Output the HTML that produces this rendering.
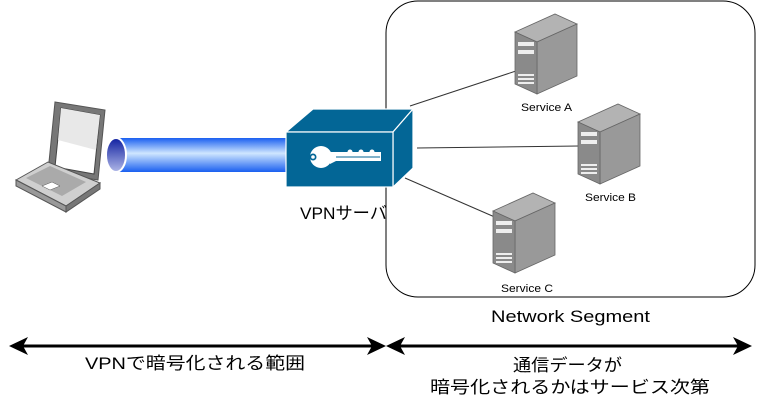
<!DOCTYPE html>
<html><head><meta charset="utf-8"><style>
html,body{margin:0;padding:0;background:#fff;}
svg{display:block}
text{font-family:"Liberation Sans","Noto Sans CJK JP",sans-serif;}
</style></head><body>
<svg width="762" height="402" viewBox="0 0 762 402" xmlns="http://www.w3.org/2000/svg">
<defs>
<linearGradient id="tube" x1="0" y1="0" x2="0" y2="1">
<stop offset="0" stop-color="#1a5ff0"/><stop offset="0.45" stop-color="#cfe6ff"/><stop offset="1" stop-color="#1a5ff0"/>
</linearGradient>
<linearGradient id="cap" x1="0" y1="0" x2="0" y2="1">
<stop offset="0" stop-color="#1020a0"/><stop offset="1" stop-color="#b0b8e8"/>
</linearGradient>
<g id="srv">
<polygon points="0,18 40,0 62,10 22,28" fill="#b3b3b3" stroke="#666" stroke-width="0.8"/>
<polygon points="22,28 62,10 62,62 22,80" fill="#999" stroke="#666" stroke-width="0.8"/>
<polygon points="0,18 22,28 22,80 0,70" fill="#8a8a8a" stroke="#666" stroke-width="0.8"/>
<rect x="3" y="28" width="16" height="4" fill="#eee"/>
<rect x="3" y="36" width="16" height="4" fill="#eee"/>
<rect x="3" y="60" width="16" height="2" fill="#eee"/>
<rect x="3" y="64" width="16" height="2" fill="#eee"/>
<rect x="3" y="68" width="16" height="2" fill="#eee"/>
</g>
</defs>
<rect x="386" y="1" width="369" height="296" rx="32" fill="#fff" stroke="#000" stroke-width="1"/>
<line x1="410" y1="106" x2="519" y2="70" stroke="#333" stroke-width="1"/>
<line x1="417" y1="148" x2="579" y2="146" stroke="#333" stroke-width="1"/>
<line x1="405" y1="178" x2="497" y2="218" stroke="#333" stroke-width="1"/>
<use href="#srv" x="515" y="14"/>
<use href="#srv" x="578" y="104"/>
<use href="#srv" x="493" y="193"/>
<text x="521" y="111" font-size="11" textLength="51" lengthAdjust="spacingAndGlyphs">Service A</text>
<text x="585" y="201" font-size="11" textLength="51" lengthAdjust="spacingAndGlyphs">Service B</text>
<text x="501" y="292" font-size="11" textLength="52" lengthAdjust="spacingAndGlyphs">Service C</text>
<rect x="118" y="138" width="170" height="34" fill="url(#tube)"/>
<ellipse cx="116" cy="155" rx="10" ry="17" fill="url(#cap)" stroke="#fff" stroke-width="2"/>
<polygon points="55,102 105,110 98,180 48,172" fill="#777" stroke="#555"/>
<polygon points="61,108 100,115 94,174 55,167" fill="#fff" stroke="#444"/>
<polygon points="61,108 100,115 96,150 58,140" fill="#e8e8e8"/>
<polygon points="16,180 48,162 100,183 66,206" fill="#cfcfcf" stroke="#555"/>
<polygon points="16,180 66,206 66,212 16,186" fill="#999" stroke="#555"/>
<polygon points="66,206 100,183 100,189 66,212" fill="#777" stroke="#555"/>
<polygon points="26,178 50,166 86,182 62,196" fill="#aaa"/>
<polygon points="42,186 52,182 60,186 50,190" fill="#fff" stroke="#555" stroke-width="0.5"/>
<polygon points="286,132 313,109 413,109 393,132" fill="#036696" stroke="#fff" stroke-width="1.2"/>
<polygon points="393,132 413,109 413,168 393,187" fill="#036696" stroke="#fff" stroke-width="1.2"/>
<rect x="286" y="132" width="107" height="55" fill="#036696" stroke="#fff" stroke-width="1.2"/>
<circle cx="321" cy="157" r="11" fill="#fff"/>
<circle cx="313" cy="157" r="3.5" fill="#036696"/>
<circle cx="313" cy="157" r="1.8" fill="#fff"/>
<polygon points="330,152 381,152 381,161 336,161 330,164" fill="#fff"/>
<circle cx="350" cy="152" r="2.5" fill="#fff"/><circle cx="361" cy="152" r="2.5" fill="#fff"/><circle cx="372" cy="152" r="2.5" fill="#fff"/>
<line x1="336" y1="157" x2="380" y2="157" stroke="#036696" stroke-width="1"/>
<text x="300" y="219" font-size="17" textLength="87" lengthAdjust="spacingAndGlyphs">VPNサーバ</text>
<text x="491" y="322" font-size="17" textLength="159" lengthAdjust="spacingAndGlyphs">Network Segment</text>
<line x1="18" y1="346" x2="377" y2="346" stroke="#000" stroke-width="3"/>
<polygon points="9,346 28,337 23,346 28,355" fill="#000"/>
<polygon points="386,346 367,337 372,346 367,355" fill="#000"/>
<line x1="395" y1="346" x2="742" y2="346" stroke="#000" stroke-width="3"/>
<polygon points="386,346 405,337 400,346 405,355" fill="#000"/>
<polygon points="752,346 733,337 738,346 733,355" fill="#000"/>
<text x="85" y="369" font-size="17" textLength="220" lengthAdjust="spacingAndGlyphs">VPNで暗号化される範囲</text>
<text x="513" y="371" font-size="17" textLength="109" lengthAdjust="spacingAndGlyphs">通信データが</text>
<text x="430" y="393" font-size="17" textLength="280" lengthAdjust="spacingAndGlyphs">暗号化されるかはサービス次第</text>
</svg>
</body></html>
